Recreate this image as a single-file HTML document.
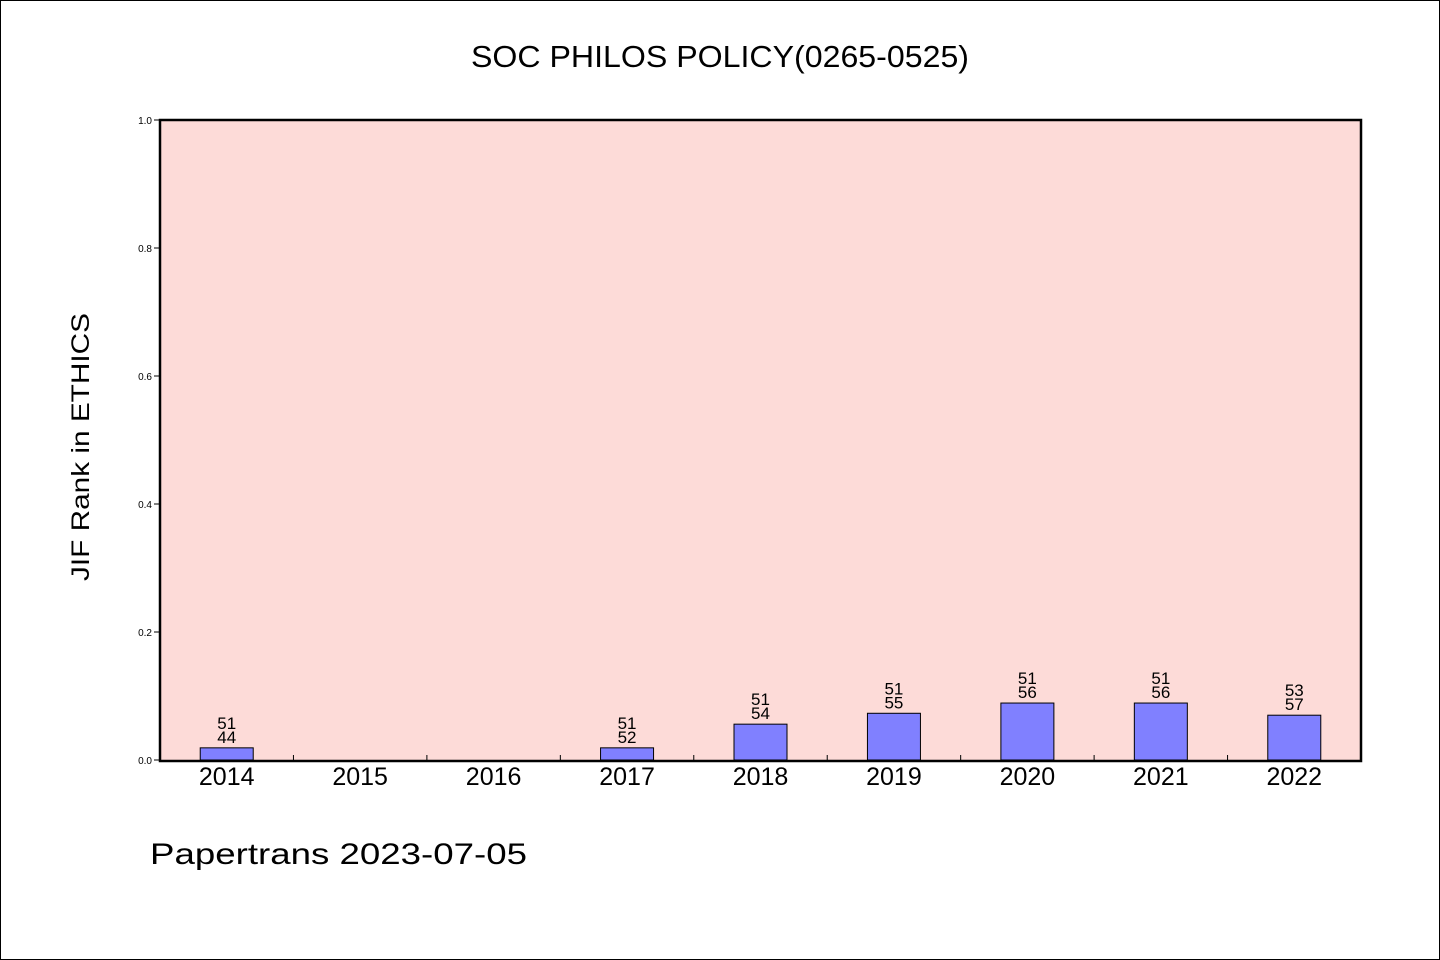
<!DOCTYPE html>
<html><head><meta charset="utf-8"><style>
html,body{margin:0;padding:0;background:#fff;}
svg{display:block;font-family:"WenQuanYi Zen Hei","Liberation Sans",sans-serif;}
</style></head><body>
<svg id="chart" width="1440" height="960" viewBox="0 0 1440 960" xmlns="http://www.w3.org/2000/svg">
<rect x="0.5" y="0.5" width="1439" height="959" fill="#fff" stroke="#000"/>
<text x="720" y="67" text-anchor="middle" font-size="31" textLength="498" lengthAdjust="spacingAndGlyphs">SOC PHILOS POLICY(0265-0525)</text>
<rect x="160" y="120" width="1201" height="641" fill="#fddbd8"/>
<g id="yaxis"></g>
<g id="bars"></g>
<g id="xaxis"></g>
<rect x="160" y="120" width="1201" height="641" fill="none" stroke="#000" stroke-width="2.5"/>
<text transform="translate(89,447) rotate(-90)" text-anchor="middle" font-size="25" textLength="268" lengthAdjust="spacingAndGlyphs">JIF Rank in ETHICS</text>
<text x="150" y="864" font-size="30" textLength="377" lengthAdjust="spacingAndGlyphs">Papertrans 2023-07-05</text>
</svg>
<script>
const categories = ["2014","2015","2016","2017","2018","2019","2020","2021","2022"];
const values = [0.019, 0, 0, 0.019, 0.056, 0.073, 0.089, 0.089, 0.070];
const topLabels = ["51","","","51","51","51","51","51","53"];
const bottomLabels = ["44","","","52","54","55","56","56","57"];
const yTicks = [0.0, 0.2, 0.4, 0.6, 0.8, 1.0];

const NS = "http://www.w3.org/2000/svg";
const X0 = 160, X1 = 1361, Y0 = 760, Y1 = 120;
const band = (X1 - X0) / categories.length;
function y(v){ return Y0 - (v) * (Y0 - Y1); }
function xc(i){ return X0 + band * (i + 0.5); }
function mk(tag, attrs, parent){ const e=document.createElementNS(NS,tag); for(const k in attrs) e.setAttribute(k,attrs[k]); parent.appendChild(e); return e; }

const yg = document.getElementById('yaxis');
yTicks.forEach(t=>{
  const l = mk('line',{x1:X0-6,x2:X0,y1:y(t),y2:y(t),stroke:'#000','stroke-width':1},yg);
  
  
  const tx = mk('text',{x:X0-8,y:y(t)+4,'text-anchor':'end','font-size':10},yg);
  tx.textContent = t.toFixed(1);
  
  
});

const bg = document.getElementById('bars');
const xg = document.getElementById('xaxis');
const bw = 53;
categories.forEach((c,i)=>{
  if (values[i] > 0) {
    const r = mk('rect',{x:xc(i)-bw/2,y:y(values[i]),width:bw,height:Y0-y(values[i]),fill:'#8080ff',stroke:'#000','stroke-width':1},bg);
    
    
    const t1 = mk('text',{x:xc(i),y:y(values[i])-19,'text-anchor':'middle','font-size':17},bg);
    t1.textContent = topLabels[i];
    
    
    const t2 = mk('text',{x:xc(i),y:y(values[i])-5,'text-anchor':'middle','font-size':17},bg);
    t2.textContent = bottomLabels[i];
    
    
  }
  const lab = mk('text',{x:xc(i),y:785,'text-anchor':'middle','font-size':25},xg);
  lab.textContent = c;
  
  
  if (i>0){
    const tk = mk('line',{x1:X0+band*i,x2:X0+band*i,y1:Y0-5,y2:Y0,stroke:'#000','stroke-width':1},xg);
    
    
  }
});
</script>
</body></html>
